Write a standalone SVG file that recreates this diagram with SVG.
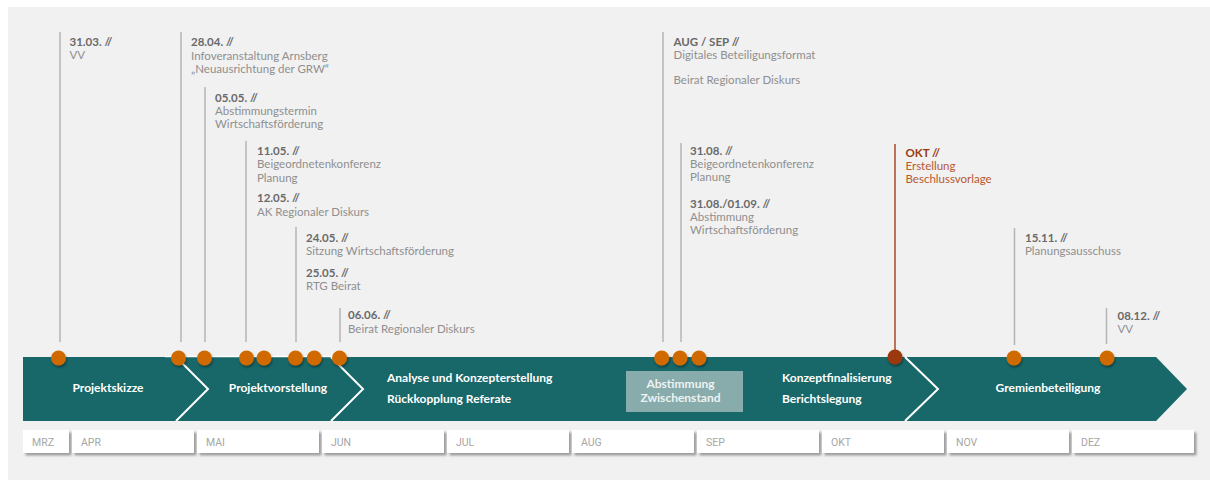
<svg xmlns="http://www.w3.org/2000/svg" width="1210" height="480" viewBox="0 0 1210 480">
<defs>
<style>
.bg{fill:#f1f1f1}
.bar{fill:#186769}
.chev{fill:none;stroke:#ffffff;stroke-width:2}
.vl{stroke:#b4b4b4;stroke-width:1.5}
.vlo{stroke:#a84a20;stroke-width:1.5}
.dot{fill:#d06b00}
.doto{fill:#9b3709}
.b{font-family:Lato,"Liberation Sans",sans-serif;font-size:11.5px;font-weight:bold;fill:#6a6a6a}
.r{font-family:Lato,"Liberation Sans",sans-serif;font-size:11.5px;fill:#8f8f8f}
.bo{font-family:Lato,"Liberation Sans",sans-serif;font-size:11.5px;font-weight:bold;fill:#9a3b10}
.ro{font-family:Lato,"Liberation Sans",sans-serif;font-size:11.5px;fill:#b8592f}
.ph{font-family:Lato,"Liberation Sans",sans-serif;font-size:12px;font-weight:bold;fill:#ffffff}
.phl{font-family:Lato,"Liberation Sans",sans-serif;font-size:12px;font-weight:bold;fill:#eef3f3}
.mb{fill:#ffffff}
.ml{font-family:Roboto,"Liberation Sans",sans-serif;font-size:10.5px;fill:#a6a6a6}
</style>
<filter id="sh" x="-10%" y="-30%" width="130%" height="190%">
<feDropShadow dx="2.5" dy="2.5" stdDeviation="1.2" flood-color="#000" flood-opacity="0.35"/>
</filter>
<filter id="dsh" x="-50%" y="-50%" width="200%" height="200%">
<feDropShadow dx="0.8" dy="1.8" stdDeviation="1.1" flood-color="#000" flood-opacity="0.4"/>
</filter>
</defs>
<rect class="bg" x="8" y="7" width="1202" height="473"/>

<g id="phase-bar">
<path class="bar" d="M23,357 H1156 L1187,389 L1156,421 H23 Z"/>
<line x1="165" y1="356.5" x2="345" y2="356.5" stroke="#ffffff" stroke-width="1.5"/>
<polyline class="chev" points="176,357 208,389 176,421"/>
<polyline class="chev" points="331,357 363,389 331,421"/>
<polyline class="chev" points="905,357 938,389 905,421"/>
<text class="ph" x="108" y="392" text-anchor="middle">Projektskizze</text>
<text class="ph" x="278" y="392" text-anchor="middle">Projektvorstellung</text>
<text class="ph" x="387" y="381.5">Analyse und Konzepterstellung</text>
<text class="ph" x="387" y="402.5">Rückkopplung Referate</text>
<rect x="626" y="371" width="117" height="41" fill="#88abab"/>
<text class="phl" x="680.5" y="388" text-anchor="middle">Abstimmung</text>
<text class="phl" x="680.5" y="401.5" text-anchor="middle">Zwischenstand</text>
<text class="ph" x="782" y="381.5">Konzeptfinalisierung</text>
<text class="ph" x="782" y="402.5">Berichtslegung</text>
<text class="ph" x="1048" y="392" text-anchor="middle">Gremienbeteiligung</text>
</g>

<g id="months">
<g filter="url(#sh)">
<rect class="mb" x="23" y="430" width="46" height="23"/>
<rect class="mb" x="72" y="430" width="122" height="23"/>
<rect class="mb" x="197" y="430" width="122" height="23"/>
<rect class="mb" x="322" y="430" width="122" height="23"/>
<rect class="mb" x="447" y="430" width="122" height="23"/>
<rect class="mb" x="572" y="430" width="122" height="23"/>
<rect class="mb" x="697" y="430" width="122" height="23"/>
<rect class="mb" x="822" y="430" width="122" height="23"/>
<rect class="mb" x="947" y="430" width="122" height="23"/>
<rect class="mb" x="1072" y="430" width="122" height="23"/>
</g>
<text class="ml" x="32" y="445.5">MRZ</text>
<text class="ml" x="81" y="445.5">APR</text>
<text class="ml" x="206" y="445.5">MAI</text>
<text class="ml" x="331" y="445.5">JUN</text>
<text class="ml" x="456" y="445.5">JUL</text>
<text class="ml" x="581" y="445.5">AUG</text>
<text class="ml" x="706" y="445.5">SEP</text>
<text class="ml" x="831" y="445.5">OKT</text>
<text class="ml" x="956" y="445.5">NOV</text>
<text class="ml" x="1081" y="445.5">DEZ</text>
</g>

<g id="connectors">
<line class="vl" x1="60" y1="32" x2="60" y2="342"/>
<line class="vl" x1="181" y1="32" x2="181" y2="342"/>
<line class="vl" x1="205" y1="87" x2="205" y2="342"/>
<line class="vl" x1="246" y1="141" x2="246" y2="342"/>
<line class="vl" x1="296" y1="227" x2="296" y2="342"/>
<line class="vl" x1="340" y1="308" x2="340" y2="342"/>
<line class="vl" x1="663" y1="32" x2="663" y2="342"/>
<line class="vl" x1="681" y1="143" x2="681" y2="342"/>
<line class="vlo" x1="895" y1="144" x2="895" y2="350"/>
<line class="vl" x1="1014.5" y1="228" x2="1014.5" y2="345"/>
<line class="vl" x1="1106.5" y1="308" x2="1106.5" y2="344"/>
</g>

<g id="dots" filter="url(#dsh)">
<circle class="dot" cx="58.5" cy="358" r="7.5"/>
<circle class="dot" cx="178.5" cy="358" r="7.5"/>
<circle class="dot" cx="204.5" cy="358" r="7.5"/>
<circle class="dot" cx="246.5" cy="358" r="7.5"/>
<circle class="dot" cx="264" cy="358" r="7.5"/>
<circle class="dot" cx="295.5" cy="358" r="7.5"/>
<circle class="dot" cx="314.3" cy="358" r="7.5"/>
<circle class="dot" cx="339.5" cy="358" r="7.5"/>
<circle class="dot" cx="661.7" cy="358" r="7.5"/>
<circle class="dot" cx="680" cy="358" r="7.5"/>
<circle class="dot" cx="699" cy="358" r="7.5"/>
<circle class="doto" cx="895" cy="357" r="7.5"/>
<circle class="dot" cx="1014" cy="358" r="7.5"/>
<circle class="dot" cx="1107" cy="358" r="7.5"/>
</g>

<g id="ev-0331">
<text class="b" x="69.5" y="46">31.03. //</text>
<text class="r" x="69.5" y="59">VV</text>
</g>
<g id="ev-0428">
<text class="b" x="191" y="46">28.04. //</text>
<text class="r" x="191" y="59.5">Infoveranstaltung Arnsberg</text>
<text class="r" x="191" y="73">„Neuausrichtung der GRW“</text>
</g>
<g id="ev-0505">
<text class="b" x="215" y="101.7">05.05. //</text>
<text class="r" x="215" y="115">Abstimmungstermin</text>
<text class="r" x="215" y="128.3">Wirtschaftsförderung</text>
</g>
<g id="ev-0511">
<text class="b" x="257" y="155">11.05. //</text>
<text class="r" x="257" y="168.3">Beigeordnetenkonferenz</text>
<text class="r" x="257" y="181.5">Planung</text>
</g>
<g id="ev-0512">
<text class="b" x="257" y="202.3">12.05. //</text>
<text class="r" x="257" y="215.7">AK Regionaler Diskurs</text>
</g>
<g id="ev-0524">
<text class="b" x="306" y="241.7">24.05. //</text>
<text class="r" x="306" y="254.7">Sitzung Wirtschaftsförderung</text>
</g>
<g id="ev-0525">
<text class="b" x="306" y="276.7">25.05. //</text>
<text class="r" x="306" y="290">RTG Beirat</text>
</g>
<g id="ev-0606">
<text class="b" x="348" y="319.3">06.06. //</text>
<text class="r" x="348" y="332.5">Beirat Regionaler Diskurs</text>
</g>
<g id="ev-augsep">
<text class="b" x="673.5" y="45.5">AUG / SEP //</text>
<text class="r" x="673.5" y="58.7">Digitales Beteiligungsformat</text>
<text class="r" x="673.5" y="84">Beirat Regionaler Diskurs</text>
</g>
<g id="ev-0831">
<text class="b" x="690" y="155">31.08. //</text>
<text class="r" x="690" y="168.3">Beigeordnetenkonferenz</text>
<text class="r" x="690" y="181.3">Planung</text>
</g>
<g id="ev-0901">
<text class="b" x="690" y="207.7">31.08./01.09. //</text>
<text class="r" x="690" y="221">Abstimmung</text>
<text class="r" x="690" y="234">Wirtschaftsförderung</text>
</g>
<g id="ev-okt">
<text class="bo" x="905.5" y="156.7">OKT //</text>
<text class="ro" x="905.5" y="170">Erstellung</text>
<text class="ro" x="905.5" y="183">Beschlussvorlage</text>
</g>
<g id="ev-1511">
<text class="b" x="1025" y="242.3">15.11. //</text>
<text class="r" x="1025" y="255.3">Planungsausschuss</text>
</g>
<g id="ev-0812">
<text class="b" x="1117.5" y="320">08.12. //</text>
<text class="r" x="1117.5" y="333">VV</text>
</g>
</svg>
